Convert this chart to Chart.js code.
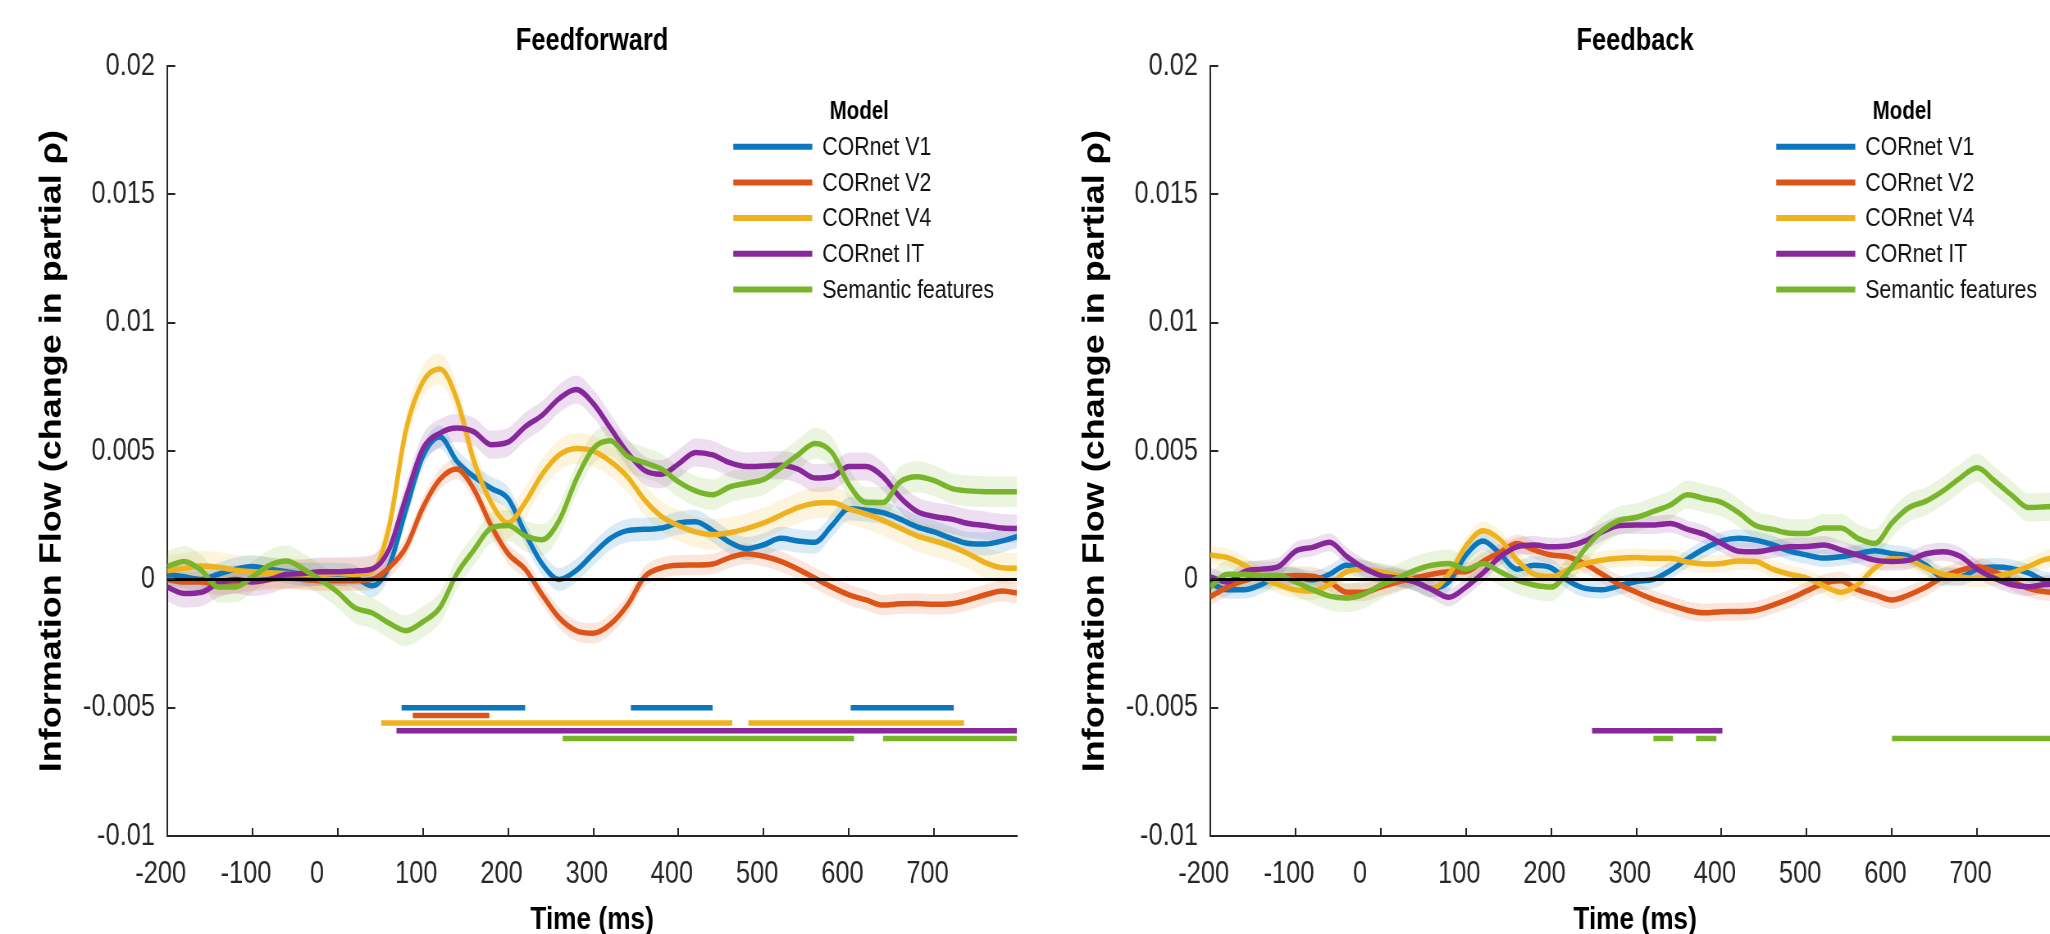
<!DOCTYPE html>
<html lang="en">
<head>
<meta charset="UTF-8" />
<title>Information flow - Feedforward / Feedback</title>
<script src="https://cdn.jsdelivr.net/npm/chart.js"></script>
<style>
  html, body { margin: 0; padding: 0; background: #fff; overflow: hidden; }
  .page { position: relative; width: 2050px; height: 934px; overflow: hidden; }
  .panel { position: absolute; top: 0; width: 1043px; height: 934px; }
  #left { left: 0; }
  #right { left: 1043px; }
  /* the original figure is squeezed horizontally, so the canvases are too */
  .panel canvas { transform: scaleX(0.82); transform-origin: 0 0; }
</style>
</head>
<body>
<div class="page">
  <div class="panel" id="left"><canvas id="ff" width="1272" height="934"></canvas></div>
  <div class="panel" id="right"><canvas id="fb" width="1272" height="934"></canvas></div>
</div>
<script>
// time axis (ms) and tick values
const times = [-200,-180,-160,-140,-120,-100,-80,-60,-40,-20,0,20,40,60,80,100,120,140,160,180,200,
  220,240,260,280,300,320,340,360,380,400,420,440,460,480,500,520,540,560,580,600,
  620,640,660,680,700,720,740,760,780,800];
const xTicks = [-200,-100,0,100,200,300,400,500,600,700];
const yTicks = [-10,-5,0,5,10,15,20];   // in units of 1e-3

const modelNames = ['CORnet V1','CORnet V2','CORnet V4','CORnet IT','Semantic features'];
const modelColors = ['#0B77BF','#DD5418','#EFB21F','#87279B','#78B52B'];

// Feedforward, values x 1e-3
const ffV1 = [0.2,0.1,0.0,0.2,0.4,0.5,0.4,0.3,0.2,0.2,
  0.2,0.1,-0.25,0.5,2.7,4.8,5.55,4.6,4.0,3.55,
  3.15,1.8,0.6,0.0,0.35,1.0,1.6,1.9,1.95,2.0,
  2.2,2.25,1.9,1.45,1.2,1.35,1.6,1.5,1.45,2.1,
  2.75,2.7,2.6,2.35,2.05,1.85,1.6,1.4,1.38,1.5,1.7];
const ffV2 = [0.0,-0.1,-0.1,-0.2,-0.15,-0.05,0.0,0.05,0.0,-0.05,
  -0.05,-0.05,0.0,0.45,1.25,2.8,3.9,4.3,3.5,2.1,
  1.0,0.4,-0.6,-1.5,-2.0,-2.1,-1.75,-1.0,0.1,0.45,
  0.55,0.56,0.6,0.85,1.0,0.9,0.7,0.4,0.05,-0.3,
  -0.6,-0.8,-1.0,-0.95,-0.94,-0.97,-0.95,-0.8,-0.6,-0.45,-0.55];
const ffV4 = [0.34,0.43,0.52,0.47,0.36,0.3,0.26,0.23,0.2,0.2,
  0.23,0.2,0.3,2.0,5.8,7.7,8.2,7.0,4.6,3.0,
  2.2,3.0,4.1,4.85,5.1,5.0,4.6,4.0,3.1,2.45,
  2.1,1.85,1.75,1.82,1.98,2.2,2.5,2.8,2.97,3.0,
  2.75,2.55,2.3,2.0,1.7,1.5,1.3,1.0,0.65,0.45,0.43];
const ffIT = [-0.3,-0.55,-0.5,-0.15,0.0,-0.1,0.0,0.2,0.23,0.3,
  0.3,0.33,0.4,1.15,3.2,5.1,5.7,5.9,5.75,5.25,
  5.35,5.95,6.4,7.05,7.4,6.85,5.9,4.95,4.25,4.1,
  4.5,4.95,4.85,4.55,4.4,4.42,4.45,4.3,3.95,4.0,
  4.4,4.4,4.0,3.2,2.65,2.45,2.35,2.18,2.1,2.0,1.98];
const ffSemantic = [0.5,0.7,0.35,-0.3,-0.3,0.1,0.55,0.72,0.4,-0.02,
  -0.5,-1.1,-1.3,-1.7,-2.0,-1.65,-1.1,0.23,1.15,2.0,
  2.1,1.7,1.55,2.3,3.9,5.1,5.4,4.8,4.55,4.3,
  3.8,3.45,3.3,3.6,3.75,3.9,4.35,4.85,5.3,4.95,
  3.7,3.0,3.0,3.8,4.0,3.85,3.55,3.45,3.42,3.42,3.42];
const ffErr = [0.45,0.4,0.6,0.55,0.6];

// Feedback, values x 1e-3
const fbV1 = [-0.15,-0.4,-0.4,-0.2,0.12,0.1,-0.02,0.2,0.55,0.4,
  0.25,0.1,-0.1,-0.35,-0.1,0.95,1.5,1.0,0.4,0.55,
  0.45,-0.05,-0.35,-0.4,-0.25,-0.08,0.0,0.35,0.8,1.2,
  1.5,1.6,1.53,1.35,1.1,0.95,0.83,0.88,1.0,1.12,
  1.0,0.9,0.55,0.1,0.1,0.4,0.48,0.43,0.25,-0.05,-0.1];
const fbV2 = [-0.68,-0.3,-0.05,0.1,0.1,0.15,0.12,-0.1,-0.5,-0.5,
  -0.3,-0.1,0.05,0.2,0.3,0.3,0.7,1.05,1.4,1.15,
  0.95,0.88,0.6,0.2,-0.2,-0.5,-0.78,-1.0,-1.2,-1.3,
  -1.26,-1.25,-1.2,-1.0,-0.75,-0.45,-0.15,-0.05,-0.4,-0.6,
  -0.8,-0.6,-0.3,0.1,0.35,0.49,0.3,-0.05,-0.35,-0.48,-0.5];
const fbV4 = [0.95,0.85,0.55,0.1,-0.2,-0.4,-0.45,-0.2,0.3,0.4,
  0.3,0.15,-0.05,-0.35,0.2,1.3,1.9,1.55,0.75,0.2,
  0.1,0.38,0.62,0.75,0.82,0.85,0.82,0.82,0.68,0.6,
  0.62,0.72,0.7,0.4,0.2,0.05,-0.25,-0.5,-0.2,0.45,
  0.8,0.75,0.45,0.2,0.1,0.04,0.1,0.25,0.5,0.78,0.85];
const fbIT = [0.1,-0.1,0.3,0.4,0.5,1.1,1.25,1.45,0.9,0.45,
  0.15,0.05,-0.1,-0.4,-0.7,-0.3,0.25,0.88,1.27,1.34,
  1.27,1.3,1.5,1.85,2.1,2.12,2.12,2.18,1.95,1.75,
  1.4,1.1,1.08,1.18,1.27,1.28,1.34,1.15,0.95,0.75,
  0.7,0.75,1.0,1.08,0.9,0.4,0.05,-0.2,-0.29,-0.2,-0.15];
const fbSemantic = [-0.3,0.2,0.2,0.15,0.15,-0.1,-0.4,-0.65,-0.72,-0.58,
  -0.22,0.05,0.35,0.55,0.62,0.4,0.62,0.3,-0.03,-0.22,
  -0.3,0.3,1.2,1.9,2.3,2.42,2.65,2.9,3.3,3.15,
  3.0,2.6,2.1,1.95,1.8,1.79,2.0,2.0,1.6,1.4,
  2.2,2.8,3.05,3.45,3.95,4.35,3.85,3.3,2.8,2.83,2.85];
const fbErr = [0.35,0.35,0.35,0.35,0.55];

// significance bars: [start, end] in ms, one list per model
const sigLevels = [-5,-5.3,-5.6,-5.9,-6.2];
const ffSig = [[[75,220],[344,440],[602,723]], [[88,178]], [[51,463],[482,735]], [[69,797]], [[264,606],[640,797]]];
const fbSig = [[], [], [], [[248,401]], [[320,343],[370,394],[600,797]]];

const SX = 0.82;   // horizontal squeeze applied to the canvases via css
const font = "'Liberation Sans', Arial, sans-serif";
Chart.defaults.font.family = font;
Chart.defaults.color = '#262626';

function rgba(hex, a) {
  const n = parseInt(hex.slice(1), 16);
  return `rgba(${n >> 16},${(n >> 8) & 255},${n & 255},${a})`;
}

// tick marks pointing into the axes, like matlab
const innerTicks = {
  id: 'innerTicks',
  afterDraw(chart) {
    const {ctx, chartArea: a, scales: {x, y}} = chart;
    ctx.save();
    ctx.strokeStyle = '#262626';
    ctx.lineWidth = 2;
    ctx.beginPath();
    xTicks.forEach(v => {
      const px = Math.round(x.getPixelForValue(v));
      ctx.moveTo(px, a.bottom); ctx.lineTo(px, a.bottom - 8);
    });
    yTicks.forEach(v => {
      const py = Math.round(y.getPixelForValue(v));
      ctx.moveTo(a.left, py); ctx.lineTo(a.left + 8 / SX, py);
    });
    ctx.stroke();
    ctx.restore();
  }
};

const zeroLine = {
  id: 'zeroLine',
  afterDatasetsDraw(chart) {
    const {ctx, chartArea: a, scales: {y}} = chart;
    const py = y.getPixelForValue(0);
    ctx.save();
    ctx.strokeStyle = '#000';
    ctx.lineWidth = 3;
    ctx.beginPath();
    ctx.moveTo(a.left, py); ctx.lineTo(a.right, py);
    ctx.stroke();
    ctx.restore();
  }
};

// legend inside the plot, top right
const modelLegend = {
  id: 'modelLegend',
  afterDraw(chart) {
    const {ctx, chartArea: a} = chart;
    ctx.save();
    ctx.fillStyle = '#000';
    ctx.textBaseline = 'middle';
    ctx.textAlign = 'center';
    ctx.font = `bold 25px ${font}`;
    ctx.fillText('Model', a.left + 692 / SX, a.top + 46);
    ctx.textAlign = 'left';
    ctx.font = `26px ${font}`;
    modelNames.forEach((name, i) => {
      const yy = a.top + 80.5 + i * 35.7;
      ctx.strokeStyle = modelColors[i];
      ctx.lineWidth = 6;
      ctx.beginPath();
      ctx.moveTo(a.left + 566 / SX, yy); ctx.lineTo(a.left + 645 / SX, yy);
      ctx.stroke();
      ctx.fillStyle = '#111';
      ctx.fillText(name, a.left + 655 / SX, yy + 1);
    });
    ctx.restore();
  }
};

function makeChart(id, title, series, errs, sigs) {
  const pts = (vals, d) => times.map((t, i) => ({x: t, y: vals[i] + d}));
  const datasets = [];

  // shaded error bands
  series.forEach((vals, i) => {
    datasets.push({
      data: pts(vals, -errs[i]), borderWidth: 0, pointRadius: 0, fill: false,
      cubicInterpolationMode: 'monotone', order: 20
    });
    datasets.push({
      data: pts(vals, errs[i]), borderWidth: 0, pointRadius: 0, fill: '-1',
      backgroundColor: rgba(modelColors[i], 0.15),
      cubicInterpolationMode: 'monotone', order: 20
    });
  });

  // mean lines, later models on top
  series.forEach((vals, i) => {
    datasets.push({
      label: modelNames[i], data: pts(vals, 0), borderColor: modelColors[i],
      borderWidth: 5.5, pointRadius: 0, fill: false,
      cubicInterpolationMode: 'monotone', order: 10 - i
    });
  });

  // significance bars
  sigs.forEach((segs, i) => {
    if (!segs.length) return;
    const data = [];
    segs.forEach(([s, e]) => {
      data.push({x: s, y: sigLevels[i]}, {x: e, y: sigLevels[i]}, {x: e, y: null});
    });
    datasets.push({
      data, borderColor: modelColors[i], borderWidth: 5.5, pointRadius: 0,
      fill: false, spanGaps: false, borderCapStyle: 'butt', order: 1
    });
  });

  return new Chart(document.getElementById(id), {
    type: 'line',
    data: {datasets},
    options: {
      responsive: false,
      animation: false,
      layout: {padding: {left: 0, right: 32, top: 0, bottom: 0}},
      plugins: {
        legend: {display: false},
        tooltip: {enabled: false},
        title: {
          display: true, text: title, fullSize: false, color: '#000',
          font: {size: 31, weight: 'bold'}, padding: {top: 23, bottom: 6}
        }
      },
      scales: {
        x: {
          type: 'linear', min: -200, max: 797,
          afterFit: s => { s.height = 98; },
          afterBuildTicks: s => { s.ticks = xTicks.map(v => ({value: v})); },
          grid: {display: false, drawTicks: false},
          border: {display: true, color: '#262626', width: 2},
          ticks: {
            padding: 20, labelOffset: -8, font: {size: 31}, color: '#262626',
            maxRotation: 0, autoSkip: false,
            // matlab puts the 0 label a little left of its tick
            callback: v => v === 0 ? '0\u2007\u2007' : String(v)
          },
          title: {
            display: true, text: 'Time (ms)', color: '#000',
            font: {size: 32, weight: 'bold', lineHeight: 0.875}, padding: {top: 0, bottom: 0}
          }
        },
        y: {
          type: 'linear', min: -10, max: 20,
          afterFit: s => { s.width = 204; },
          afterBuildTicks: s => { s.ticks = yTicks.map(v => ({value: v})); },
          grid: {display: false, drawTicks: false},
          border: {display: true, color: '#262626', width: 2},
          ticks: {padding: 15, font: {size: 31}, color: '#262626', callback: v => String(v / 1000)},
          title: {
            display: true, text: 'Information Flow (change in partial ρ)', color: '#000',
            font: {size: 36, weight: 'bold'}, padding: {top: 42, bottom: 0}
          }
        }
      }
    },
    plugins: [zeroLine, innerTicks, modelLegend]
  });
}

makeChart('ff', 'Feedforward', [ffV1, ffV2, ffV4, ffIT, ffSemantic], ffErr, ffSig);
makeChart('fb', 'Feedback', [fbV1, fbV2, fbV4, fbIT, fbSemantic], fbErr, fbSig);
</script>
</body>
</html>
